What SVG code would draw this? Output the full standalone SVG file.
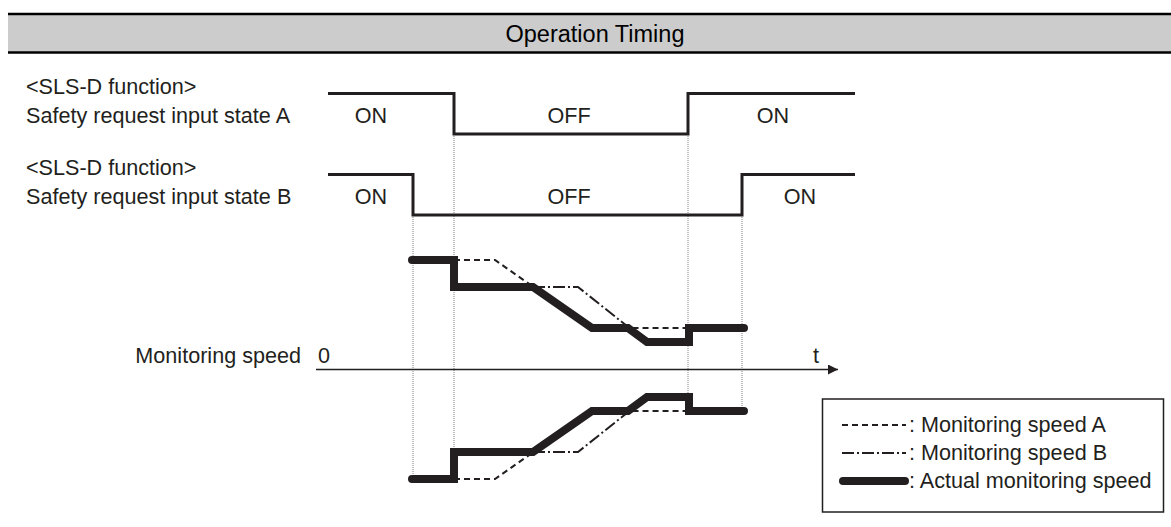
<svg xmlns="http://www.w3.org/2000/svg" width="1171" height="527" viewBox="0 0 1171 527">
<style>
text{font-family:"Liberation Sans",Arial,sans-serif;font-size:21.6px;fill:#231f20}
.c{text-anchor:middle}
.title{font-size:23.5px;fill:#000}
.sig{fill:none;stroke:#231f20;stroke-width:3}
.guide{fill:none;stroke:#808080;stroke-width:1;stroke-dasharray:1 1}
.spA{fill:none;stroke:#231f20;stroke-width:2;stroke-dasharray:6 4}
.spB{fill:none;stroke:#231f20;stroke-width:2;stroke-dasharray:12 3 2 3}
.act{fill:none;stroke:#231f20;stroke-width:8;stroke-linecap:round;stroke-linejoin:miter}
</style>
<defs>
<marker id="arr" viewBox="0 0 10 10" refX="10" refY="5" markerWidth="15" markerHeight="10" markerUnits="userSpaceOnUse" orient="auto">
<path d="M0,0 L10,5 L0,10 Z" fill="#231f20"/>
</marker>
</defs>
<rect width="1171" height="527" fill="#fff"/>
<g id="header">
<rect x="8" y="14" width="1163" height="38.5" fill="#cccccc"/>
<line x1="8" y1="14" x2="1171" y2="14" stroke="#000" stroke-width="2.5"/>
<line x1="8" y1="52.5" x2="1171" y2="52.5" stroke="#000" stroke-width="2.5"/>
<text class="c title" x="595" y="42">Operation Timing</text>
</g>
<g id="labelA">
<text x="26" y="94">&lt;SLS-D function&gt;</text>
<text x="26" y="122.5">Safety request input state A</text>
</g>
<g id="labelB">
<text x="26" y="175">&lt;SLS-D function&gt;</text>
<text x="26" y="204">Safety request input state B</text>
</g>
<g id="labelSpeed">
<text x="301" y="363" text-anchor="end">Monitoring speed</text>
<text x="318" y="363">0</text>
</g>
<g id="guides">
<line class="guide" x1="413" y1="215" x2="413" y2="476"/>
<line class="guide" x1="454" y1="134" x2="454" y2="479"/>
<line class="guide" x1="688" y1="134" x2="688" y2="396"/>
<line class="guide" x1="742" y1="215" x2="742" y2="411"/>
</g>
<g id="signalA">
<path class="sig" d="M328,93.5 H454 V134 H688 V93.5 H855"/>
<text class="c" x="371" y="122.5">ON</text>
<text class="c" x="569" y="122.5">OFF</text>
<text class="c" x="773" y="122.5">ON</text>
</g>
<g id="signalB">
<path class="sig" d="M328,174.5 H413 V215 H742 V174.5 H855"/>
<text class="c" x="371" y="204">ON</text>
<text class="c" x="569" y="204">OFF</text>
<text class="c" x="800" y="204">ON</text>
</g>
<g id="axis">
<line x1="316" y1="369.5" x2="838" y2="369.5" stroke="#231f20" stroke-width="1.5" marker-end="url(#arr)"/>
<text class="c" x="816" y="363">t</text>
</g>
<g id="connectors">
<path class="spA" d="M454,260 H495 L592,328 H689"/>
<path class="spB" d="M533,287 H578 L647,342 H689"/>
<path class="act" d="M412,260 H454 V287 H533 L592,328 H628 L647,342 H689 V328 H744"/>
<path class="spA" d="M454,479 H495 L592,411 H689"/>
<path class="spB" d="M533,452 H578 L647,397 H689"/>
<path class="act" d="M412,479 H454 V452 H533 L592,411 H628 L647,397 H689 V411 H744"/>
</g>
<g id="legend">
<rect x="822.5" y="399" width="341" height="113" fill="#fff" stroke="#231f20" stroke-width="1.5"/>
<line class="spA" x1="842" y1="425" x2="906" y2="425"/>
<text x="909" y="432">: Monitoring speed A</text>
<line class="spB" x1="842" y1="453" x2="906" y2="453"/>
<text x="909" y="460">: Monitoring speed B</text>
<line class="act" x1="843" y1="481" x2="905" y2="481"/>
<text x="909" y="488">: Actual monitoring speed</text>
</g>
</svg>
